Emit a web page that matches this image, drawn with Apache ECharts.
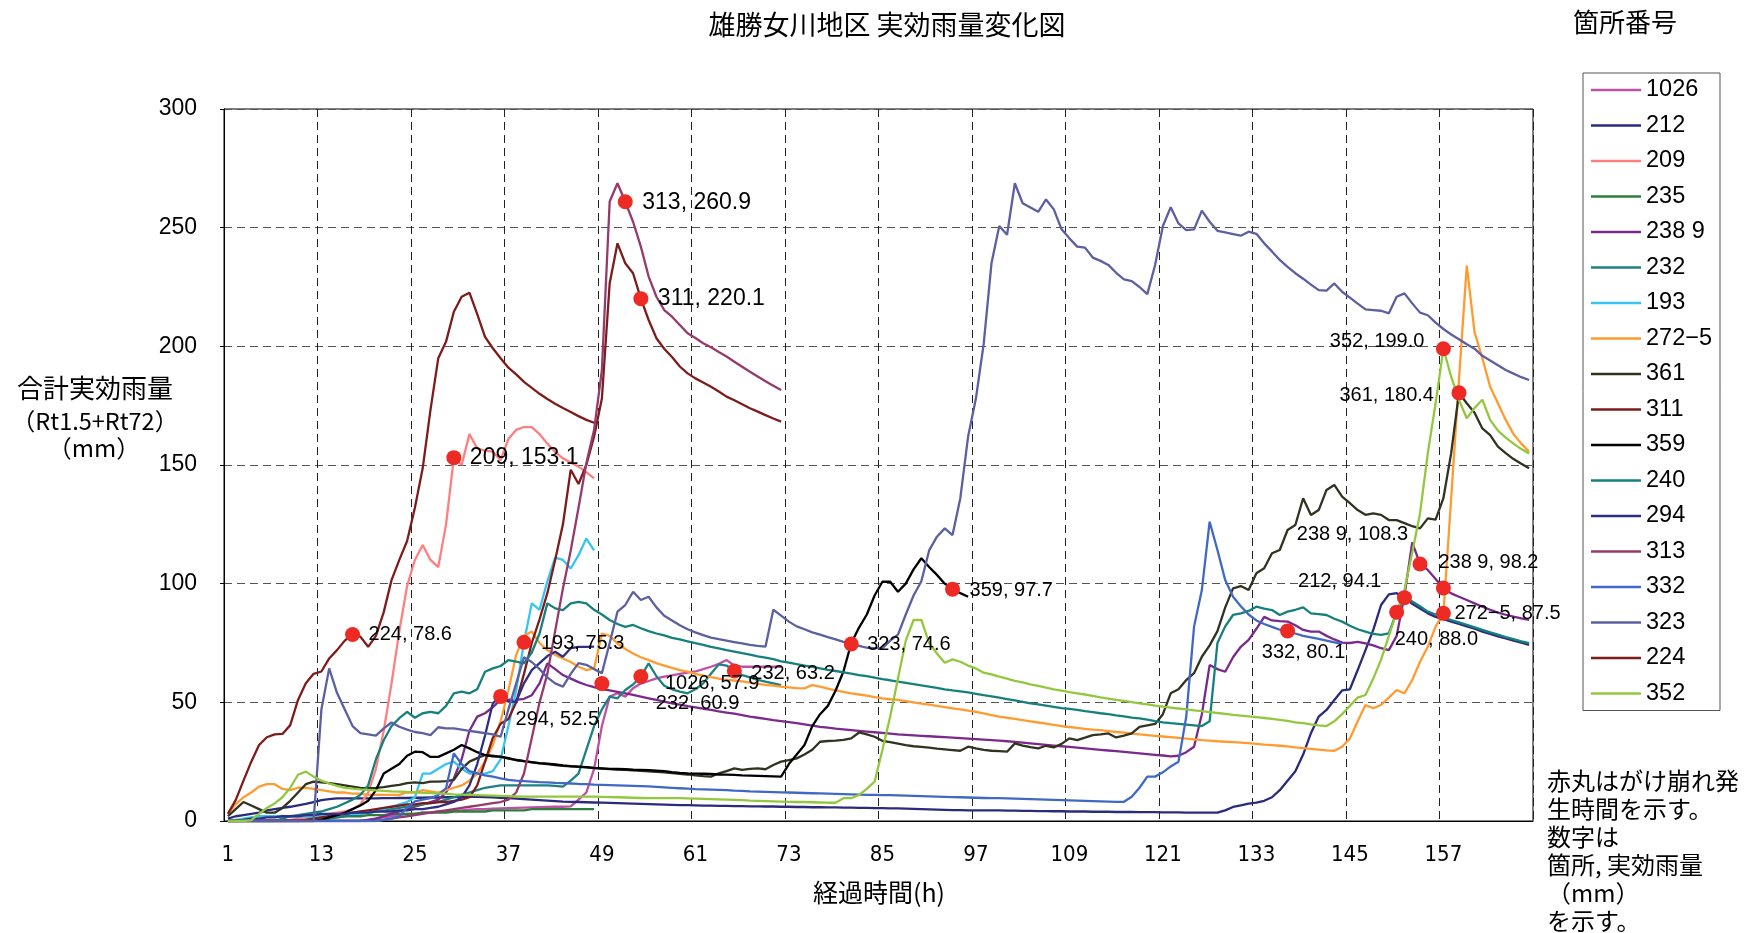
<!DOCTYPE html>
<html>
<head>
<meta charset="utf-8">
<title>雄勝女川地区 実効雨量変化図</title>
<script src="https://cdn.jsdelivr.net/npm/echarts/dist/echarts.min.js"></script>
<style>
  html, body { margin: 0; padding: 0; background: #fff; }
  #chart { width: 1749px; height: 933px; }
</style>
</head>
<body>
<div id="chart"></div>
<script>
// Elapsed hours (category axis, 1..168)
const hours = Array.from({ length: 168 }, (_, i) => String(i + 1));

// Effective rainfall (Rt1.5 + Rt72, mm) per monitoring site, hour by hour
const s1026 = [
  0,0,0,0,0,0,0,0,0,0,0,0,
  0,0,0,0,0,0,0.5,1,1.5,2,2.5,3,
  3,3.5,3.5,4,4,4.5,4.5,4.8,5,5,5.2,5.3,
  5.4,5.5,5.6,5.7,5.8,5.9,6,6,6.2,9,12,22,
  40,52.4,53.8,52.4,55.9,57.9,59,60.1,60.8,61.4,62,62.5,
  63,64,65,66.2,67.8,65.5,65,65,65,65,65,65
];
const s212 = [
  1,2,2.5,3,3.5,4.5,5,5.5,6,6.6,7.2,8,
  8.8,9.2,9.5,9.5,9.5,9.5,9.5,9.5,9.6,9.6,9.7,9.7,
  9.8,9.8,9.9,9.9,10,10.1,10.2,10.2,10.2,10.1,10,9.8,
  9.6,9.4,9.2,9,8.8,8.6,8.4,8.2,8.1,8,7.9,7.8,
  7.7,7.6,7.5,7.4,7.3,7.2,7.1,7,6.9,6.8,6.7,6.7,
  6.6,6.5,6.5,6.4,6.4,6.3,6.3,6.2,6.2,6.1,6.1,6,
  6,5.9,5.9,5.8,5.8,5.7,5.7,5.6,5.6,5.5,5.5,5.4,
  5.4,5.3,5.3,5.2,5.1,5,4.9,4.8,4.7,4.6,4.6,4.5,
  4.5,4.5,4.5,4.5,4.4,4.4,4.3,4.3,4.2,4.2,4.1,4.1,
  4,4,4,3.9,3.9,3.9,3.8,3.8,3.8,3.7,3.7,3.7,
  3.6,3.6,3.6,3.5,3.5,3.5,3.5,3.5,4.5,5.9,6.6,7.3,
  7.7,8.5,10,13,17,21,28,37,44,46.8,51,55,
  55.5,63.6,72,80.5,91,95.5,96,94.1,91.5,89.5,87.5,86,
  85,84,83,82,81,79.8,78.8,77.8,76.9,76,75.1,74.2
];
const s209 = [
  0,0,0,0,0,0,0,0,0.5,1,1.5,2,
  2.5,3,3.5,4,5,7,12,22,38,58,80,99,
  110,116.3,110,107,125,153.1,150,163,157,156,155.6,152,
  161,164.8,166,166,163,159,155.5,152.8,151,149.3,147,144.4
];
const s235 = [
  0,0,0,0,0,0,0,0,0,0,0.5,1,
  1,1.5,1.5,2,2,2,2.5,2.5,2.5,3,3,3,
  3,3.5,3.5,3.5,3.5,4,4,4,4,4,4.5,4.5,
  4.5,4.5,4.5,5,5,5,5,5,5,5,5,5
];
const s2389 = [
  0,0,0,0,0,0,0,0,0,0,0,0,
  0,0,0,0,0,0,0.5,1,2,3,4,5,
  6,7,8,9,12,18,26,38,44,45.4,48,51,
  51.1,51,51.5,53,58,66.4,64,61.5,60,58.5,57.3,56.4,
  55.6,55,54.4,53.8,53.1,52.4,51.7,51,50.3,49.6,49,48.4,
  47.9,47.3,46.8,46.2,45.7,45.2,44.6,44,43.5,43,42.5,42.1,
  41.7,41.2,40.7,40.2,39.7,39.3,38.9,38.6,38.3,38,37.7,37.4,
  37.1,36.8,36.5,36.3,36.1,35.9,35.7,35.5,35.3,35.1,34.9,34.7,
  34.5,34.3,34.1,33.9,33.6,33.3,33,32.7,32.4,32.1,31.8,31.5,
  31.2,30.9,30.6,30.3,30,29.7,29.4,29.1,28.8,28.5,28.2,27.9,
  27.6,27.2,27.5,29,31.3,45,65.7,64,62.9,69,73.4,76.3,
  81,86,84.5,84.2,84,82.5,80.5,79.8,79.8,78,76.5,75.2,
  75,75.5,74.8,74,72.8,72,78,95,117.4,108.3,105.8,102,
  98.2,95.9,94.5,93.1,91.7,90.3,89,87.8,86.9,86.1,85.4,84.7
];
const s232 = [
  0,0,0,0,0,0,0,0,0,0,0,0,
  0.5,1,1.5,2,2.5,3,3.5,4,4.5,5,5.5,6,
  6.5,7,7.5,8,9,10,11,12,13,14,14.5,15,
  15,15,15,15,15,15,14.8,14.5,17,20,30,40,
  47,52.4,51.7,55.2,57.5,60.9,66.4,61,57,55.5,54.5,53.8,
  55.5,58,62,66,65.5,63.2,61.5,60.5,59.5,58.7,58,57.3
];
const s193 = [
  0,0.5,1,1.5,2,2,2,2,2,2,2,2,
  2,2.5,2.5,3,3,3,3.5,4,5,6,7,8,
  10,20,20,22,24,25,22,20,20,20,21,26,
  40,55,75.3,91.7,89,101,111,110,106.4,112,119,114
];
const s2725 = [
  3,7,10,12,14.5,15.5,15.5,13.5,13,14,14,13.5,
  13,12.5,12,12,11.5,11.5,11,11,11,11,11,12,
  12,13,12.5,12,13,14,15,17,20,25,32,42,
  55,70,78,79.8,75,72,70,68.5,67,65,63.6,64.3,
  79,78,74.8,72.5,70.6,69,67.8,66.5,65.5,64.5,63.6,62.9,
  62,61.3,60.6,60,59.5,59.2,58.8,58.3,57.8,57.4,57,56.6,
  56.3,56,55.9,57.3,56.6,55.8,55,54.4,53.8,53.3,52.8,52.2,
  51.7,51.3,51,50.5,50,49.5,49,48.5,48,47.5,47,46.5,
  46,45.3,44.6,44,43.5,43,42.5,42,41.5,41,40.5,40,
  39.6,39.2,38.8,38.5,38.3,37.9,37.5,37.2,36.8,36.5,36.2,35.9,
  35.6,35.3,35,34.7,34.4,34.1,33.9,33.6,33.4,33.2,33,32.8,
  32.5,32.2,32,31.7,31.4,31,30.7,30.4,30.1,29.8,29.6,31.3,
  34.8,42,48.9,47.5,48.9,52,55.2,53.8,59.4,67.1,73.4,81.9,
  87.5,136,186,234,206,195,183,176,169,163,159,155.6
];
const s361 = [
  2,5,8,6.5,5,3.5,3.5,5.5,8.5,12,15.5,16.6,
  16.3,16,15.5,15,14.5,14,13.8,14,14.3,14.8,15.2,16,
  16.3,16,16.6,16.6,16.8,17.3,22,25,26.5,27.8,27.5,27,
  26.3,25.7,25.2,24.7,24.3,24,23.6,23.2,23,22.8,22.6,22.3,
  22.1,21.9,21.7,21.5,21.3,21.1,20.9,20.7,20.5,20.2,19.9,19.6,
  19.2,18.9,18.7,20.1,21,22.2,21.5,22,22.2,21.8,23.6,25,
  25.7,26.4,28,30,33.4,33.7,33.9,34.2,34.8,37.3,36.5,35.5,
  33.8,33.2,32.6,32,31.5,31.2,30.9,30.5,30.2,29.9,29.6,31.3,
  30.6,30,29.6,29.4,29.2,32.7,31.8,31.1,30.6,31.7,31,32.5,
  34.8,34.1,35.1,36.2,36.5,36.9,35.2,36,36.9,39.7,40.3,40.9,
  45,53.8,55.5,59.4,62.3,69.2,74,80,90,98,99,97.3,
  104.4,106.5,112.8,114.2,122.6,124.7,136,128.9,131,139.5,141.6,136.7,
  133.9,131,129,129.6,129,126.8,126.8,125.5,124.2,123.3,127.5,127,
  136,155,180.4,176,172,165.4,162.6,157.7,155,152.5,150.5,148.6
];
const s311 = [
  0,0,0,0,0,0,0,0,0,0,0.5,1,
  1.5,2,2.5,3,3.5,4,4.5,5,5.5,6,6.5,7,
  7,7.5,7.5,8,8,8.5,9,10,15,25,35,41,
  43,50,62,75,85,96,110,125,148,142,150,162,
  178,226.6,243.4,235,230.8,220.1,211.1,203.4,199,195.5,191.5,188.6,
  186.5,184.8,183,181,178.8,177.3,175.6,173.9,172.5,171,169.6,168.3
];
const s359 = [
  0,0,0,0,0,0,0,0,0,0,0,0,
  0.5,1.5,2.5,3.5,5,6.5,8.5,13,20,22,24,27.5,
  29.2,29,27,27,28.5,30,32,30.6,29,27.8,27.2,27.1,
  26.5,25.7,25.2,24.8,24.4,24.2,23.8,23.4,23.1,22.9,22.7,22.4,
  22.2,22,21.9,21.8,21.6,21.5,21.4,21.2,21,20.6,20.3,20.1,
  20,19.9,19.8,19.6,19.5,19.4,19.2,19.1,19,18.9,18.8,18.7,
  24,28,32,40,45,48.5,55,63,74.9,81.5,87,95,
  100.8,100.8,96.6,100,106,110.7,107,103.7,100,97.7,96,94.5
];
const s240 = [
  0,0,0,0,0,0,0,1,2,2.5,3,3.5,
  4,5,6,7.5,9,11,15,26,34,40,43.3,46,
  43.5,45.4,46,45.4,48.5,53.8,54.5,53.8,55.5,62.9,64.3,65.3,
  67.8,67.1,66.4,71,79,91.7,89.6,88.9,91.7,92.3,91.7,89,
  87,84.7,83,81.8,82.6,81.2,80,79,78.2,77.2,76.5,75.7,
  74.9,74.2,73.4,72.7,72,71.4,70.7,70.1,69.4,68.8,68.2,67.3,
  66.7,66.1,65.5,64.9,64.3,63.7,63.2,62.6,62.1,61.5,61,60.4,
  59.8,59.3,58.7,58.2,57.7,57.1,56.6,56.1,55.5,55,54.6,54.2,
  53.6,53,52.5,52,51.4,50.8,50.2,49.6,49.1,48.6,48.1,47.6,
  47.2,46.8,46.3,45.9,45.4,45,44.5,44.1,43.6,43.2,42.7,42.1,
  41.6,41.2,40.9,40.6,40.3,40,42,75,82,86.8,87.5,88.5,
  90.3,89.5,88.9,86.8,88.2,89,90,87.5,87.2,86.8,85.2,84,
  82.3,80.8,79.8,78.8,78.4,79.1,88,94.5,92.5,90.5,88.2,87,
  85.7,84.7,83.7,82.7,81.6,80.5,79.5,78.5,77.5,76.6,75.7,74.9
];
const s294 = [
  0,0,0.5,1,1,1.5,1.5,2,2,2,2.5,2.5,
  3,3,3,3,3.5,3.5,3.5,4,4,4,4.5,4.5,
  5,5,5.5,6,7,8,10,15,24,36,49.6,52.5,
  50.3,50.3,58,63.6,66.5,69.5,71.3,69.2,72.8,73.4,73.4,73.5
];
const s313 = [
  0,0,0,0,0,0,0,0,0,0,0,0,
  0,0,0,0,0,0,0,0,0.5,1,1.5,2,
  2.5,3,3.5,4,4.5,5,5.5,6,6.5,7,7.5,8,
  9,12,20,35,50,62,80,98,114,132,150.7,164.8,
  190,261,268.7,260.9,252.5,242,229.4,220.9,215.3,212.5,209,205.5,
  203.5,201.3,199.6,197.6,195.7,193.5,191.4,189.3,187.3,185.3,183.4,181.6
];
const s332 = [
  0,0,0,0,0,0,0,0,0,0,0,0,
  0,0,0,0,0,0,0,0,0.5,1,2,5.6,
  8.3,9,9.6,11,13.8,28.5,24,21,20.1,19.2,18.7,18,
  17.3,17,16.8,16.6,16.4,16.3,16.1,16,15.8,15.6,15.5,15.3,
  15.2,15.1,15,14.9,14.8,14.7,14.6,14.4,14.2,14,13.8,13.6,
  13.4,13.3,13.2,13.1,13,12.8,12.7,12.5,12.4,12.3,12.2,12.1,
  12,11.9,11.8,11.7,11.6,11.5,11.4,11.3,11.2,11.1,11,11,
  10.9,10.9,10.8,10.7,10.6,10.5,10.4,10.3,10.2,10.1,10,9.9,
  9.8,9.7,9.6,9.6,9.5,9.4,9.3,9.2,9.1,9,8.9,8.8,
  8.7,8.6,8.5,8.4,8.3,8.2,8.1,8.1,10.2,14,18.7,18.7,
  20.5,23,25,44,81.9,97.3,126.1,114.2,101.5,94.5,90.5,87,
  84.5,83,81.8,80.6,80.1,79,78,77.4,76.7,76,75.3,74.6
];
const s323 = [
  0,0,0,0,0,0,0,0,0,0,0,0,
  47,64.3,54,47,40,37,36.5,36,39,41.5,39.7,38.5,
  37.5,37,36.2,39.5,39,39,38.5,38,37.5,37,36.5,35.5,
  47,58,69,67,64,60.5,58,56.6,62,66.5,65.8,64,
  62.3,75,88.2,91,96.6,93.1,94.5,90,86.5,84.5,82.5,80.8,
  79.5,78.3,77.3,76.6,76,75.4,74.8,74.2,73.8,73.5,89,86.5,
  84,82,80.8,79.5,78.5,77.5,76.5,75.5,74.6,73.8,73,72.8,
  72.8,76,78.5,87,95,101,114,119.8,123.3,120.5,136,162,
  178,201,235,250.7,247,268.7,260.3,258.5,256.7,261.9,257.7,249.3,
  245.5,242,241.6,237.4,236,234.3,231,228.2,227.5,225,222,234.3,
  250.7,258.6,251.8,249,249.3,257.2,252.5,248.7,248,247.3,246.6,248.3,
  247.4,243.4,240,236.4,233.5,230.8,228.5,226,223.7,223.5,226.5,223,
  220.5,218,215.6,215.3,215,213.9,220.9,222.3,218.1,214.2,213.1,210,
  207.3,205,203,200.9,199,196,194,192,190,188.5,187,185.8
];
const s224 = [
  3,8.8,17,25,32,35.3,36.5,36.7,40.4,51,58,62,
  63,68.5,72,76,78.6,77.7,73.4,78,88,101.5,110,118,
  132,148.6,173.2,195,202,214.6,220.9,222.6,213.6,204,199.2,195,
  191,188.2,185,182.5,180,177.8,175.8,174,172.3,170.6,169,167.8
];
const s352 = [
  0,0,0,0.4,3,5.5,7.4,10,14,19.5,20.8,18.7,
  17,15.8,14.8,14,13.6,13.3,13.1,12.9,12.7,12.5,12.4,12.3,
  12.1,11.9,11.8,11.6,11.4,11.2,11.1,11,10.9,10.8,10.7,10.6,
  10.5,10.4,10.3,10.3,10.3,10.3,10.3,10.3,10.3,10.3,10.3,10.3,
  10.2,10.1,10,9.9,9.8,9.7,9.6,9.6,9.6,9.6,9.6,9.5,
  9.4,9.3,9.2,9.1,9,8.9,8.8,8.6,8.5,8.4,8.3,8.2,
  8.1,8,8,7.9,7.8,7.7,7.7,9.6,9.6,11,13.5,16.6,
  29.9,44,60,76,84.7,84.7,75,70.6,66.7,68.1,67.1,65.5,
  64.3,62.5,61.8,60.8,60,59,58.4,57.6,56.9,56.2,55.5,54.9,
  54.3,53.8,53.3,52.7,52.1,51.6,51,50.6,50.1,49.6,49.1,48.6,
  48.2,47.8,47.4,47,46.6,46.3,45.9,45.5,45.1,44.7,44.4,44.1,
  43.8,43.4,43,42.6,42.2,41.6,41.2,40.7,40.3,40,42,45,
  48.5,52,53.1,60,68,78,88,97.3,113,129.6,155,176,
  199,187.2,177.4,169.7,174,177.5,169,164.5,161.5,159,156.7,154.9
];

// Site numbers, in legend / drawing order
const siteNames = ['1026','212','209','235','238 9','232','193','272\u22125','361','311','359','240','294','313','332','323','224','352'];
const siteValues = [s1026,s212,s209,s235,s2389,s232,s193,s2725,s361,s311,s359,s240,s294,s313,s332,s323,s224,s352];
const siteColors = ['#C04FA8','#2B2B7C','#FF7F80','#2E7D3C','#7A2A8A','#1E8080','#35C5F0','#FF9B30','#30331F','#7C1D1D','#000000','#15807C','#2E2E88','#953A6C','#4169C4','#5C5FA0','#7E1C1C','#93C83E'];

// Slope failures: site, hour, effective rainfall (mm)
const failSite  = ['224','209','313','311','193','294','1026','232','232','323','359','332','238 9','238 9','212','240','272\u22125','352','361'];
const failHour  = [17, 30, 52, 54, 39, 36, 49, 54, 66, 81, 94, 137, 154, 157, 152, 151, 157, 157, 159];
const failValue = [78.6, 153.1, 260.9, 220.1, 75.3, 52.5, 57.9, 60.9, 63.2, 74.6, 97.7, 80.1, 108.3, 98.2, 94.1, 88.0, 87.5, 199.0, 180.4];

// Label placement for each failure marker: [dx, dy, align, fontSize]
const failLabelPlace = [
  [16, 0, 'left', 20], [16, 0, 'left', 23], [17, 1, 'left', 23], [17, 0, 'left', 23],
  [17, 1, 'left', 20], [15, 23, 'left', 20], [63, 0, 'left', 20], [15, 27, 'left', 20],
  [17, 2, 'left', 20], [16, 1, 'left', 20], [17, 1, 'left', 20], [16, 22, 'center', 20],
  [-12, -29, 'right', 20], [-5, -25, 'left', 20], [-23, -16, 'right', 20], [-2, 27, 'left', 20],
  [11, 0, 'left', 20], [-19, -7, 'right', 20], [-25, 3, 'right', 20]
];

const NUM_FONT = "'Liberation Sans', Arial, sans-serif";
const NARROW_FONT = "'Liberation Sans Narrow', 'DejaVu Sans Condensed', 'Liberation Sans', sans-serif";
const JP_FONT = "'Noto Sans CJK JP', 'Noto Sans', sans-serif";

const lineSeries = siteNames.map((name, i) => ({
  type: 'line',
  name: name,
  data: siteValues[i],
  symbol: 'none',
  showSymbol: false,
  smooth: false,
  connectNulls: false,
  z: 2,
  lineStyle: { width: 2.3, color: siteColors[i] },
  itemStyle: { color: siteColors[i] },
  emphasis: { disabled: true },
  animation: false
}));

const failSeries = {
  type: 'scatter',
  name: 'failure',
  symbol: 'circle',
  symbolSize: 15,
  z: 10,
  itemStyle: { color: '#EE2A24', opacity: 1 },
  emphasis: { disabled: true },
  data: failHour.map((h, i) => {
    const p = failLabelPlace[i];
    return {
      value: [h - 1, failValue[i]],
      label: {
        show: true,
        position: 'inside',
        offset: [p[0], p[1]],
        align: p[2],
        verticalAlign: 'middle',
        fontSize: p[3],
        fontFamily: NUM_FONT,
        color: '#000',
        opacity: 1,
        textBorderWidth: 0,
        textShadowBlur: 0,
        formatter: failSite[i] + ', ' + failValue[i].toFixed(1)
      }
    };
  })
};

const chart = echarts.init(document.getElementById('chart'), null, { renderer: 'canvas' });

chart.setOption({
  animation: false,
  backgroundColor: '#ffffff',
  grid: {
    left: 224, top: 109, right: 216, bottom: 112,
    show: true, borderColor: '#000', borderWidth: 1, backgroundColor: 'transparent',
    containLabel: false, outerBoundsMode: 'none'
  },
  xAxis: {
    type: 'category',
    data: hours,
    boundaryGap: true,
    axisLine: { show: true, lineStyle: { color: '#000', width: 1 } },
    axisTick: { show: false },
    axisLabel: { interval: 11, color: '#000', fontSize: 22, fontFamily: NARROW_FONT, margin: 23 },
    splitLine: { show: true, interval: 11, lineStyle: { color: '#222', type: [8, 5], width: 1 } }
  },
  yAxis: {
    type: 'value',
    min: 0, max: 300, interval: 50,
    axisLine: { show: true, lineStyle: { color: '#000', width: 1 } },
    axisTick: { show: true, length: 4, lineStyle: { color: '#000' } },
    axisLabel: { color: '#000', fontSize: 23, fontFamily: NUM_FONT, margin: 27 },
    splitLine: { show: true, lineStyle: { color: '#555', type: [8, 5], width: 1 } }
  },
  legend: {
    data: siteNames.map(n => ({ name: n, icon: 'rect' })),
    orient: 'vertical',
    left: 1583, top: 73,
    itemWidth: 50, itemHeight: 2.5, itemGap: 11.5,
    padding: [5, 8, 5, 8],
    borderColor: '#555', borderWidth: 1,
    backgroundColor: '#fff',
    selectedMode: false,
    textStyle: { fontSize: 23.5, color: '#000', fontFamily: NUM_FONT }
  },
  series: [...lineSeries, failSeries],
  graphic: [
    { type: 'text', x: 887, y: 25, silent: true,
      style: { text: '雄勝女川地区 実効雨量変化図', fill: '#000', font: '27px ' + JP_FONT,
               align: 'center', verticalAlign: 'middle', textAlign: 'center', textVerticalAlign: 'middle' } },
    { type: 'text', x: 1625, y: 22, silent: true,
      style: { text: '箇所番号', fill: '#000', font: '26px ' + JP_FONT,
               align: 'center', verticalAlign: 'middle', textAlign: 'center', textVerticalAlign: 'middle' } },
    { type: 'text', x: 95, y: 388, silent: true,
      style: { text: '合計実効雨量', fill: '#000', font: '26px ' + JP_FONT,
               align: 'center', verticalAlign: 'middle', textAlign: 'center', textVerticalAlign: 'middle' } },
    { type: 'text', x: 95, y: 421, silent: true,
      style: { text: '（Rt1.5+Rt72）', fill: '#000', font: '23.5px ' + JP_FONT,
               align: 'center', verticalAlign: 'middle', textAlign: 'center', textVerticalAlign: 'middle' } },
    { type: 'text', x: 94, y: 448, silent: true,
      style: { text: '（mm）', fill: '#000', font: '24px ' + JP_FONT,
               align: 'center', verticalAlign: 'middle', textAlign: 'center', textVerticalAlign: 'middle' } },
    { type: 'text', x: 879, y: 892, silent: true,
      style: { text: '経過時間(h)', fill: '#000', font: '25px ' + JP_FONT,
               align: 'center', verticalAlign: 'middle', textAlign: 'center', textVerticalAlign: 'middle' } },
    { type: 'text', x: 1547, y: 767, silent: true,
      style: { text: '赤丸はがけ崩れ発\n生時間を示す。\n数字は\n箇所, 実効雨量\n（mm）\nを示す。',
               fill: '#000', font: '24px ' + JP_FONT, lineHeight: 28,
               align: 'left', verticalAlign: 'top', textAlign: 'left', textVerticalAlign: 'top' } }
  ]
});
</script>
</body>
</html>
